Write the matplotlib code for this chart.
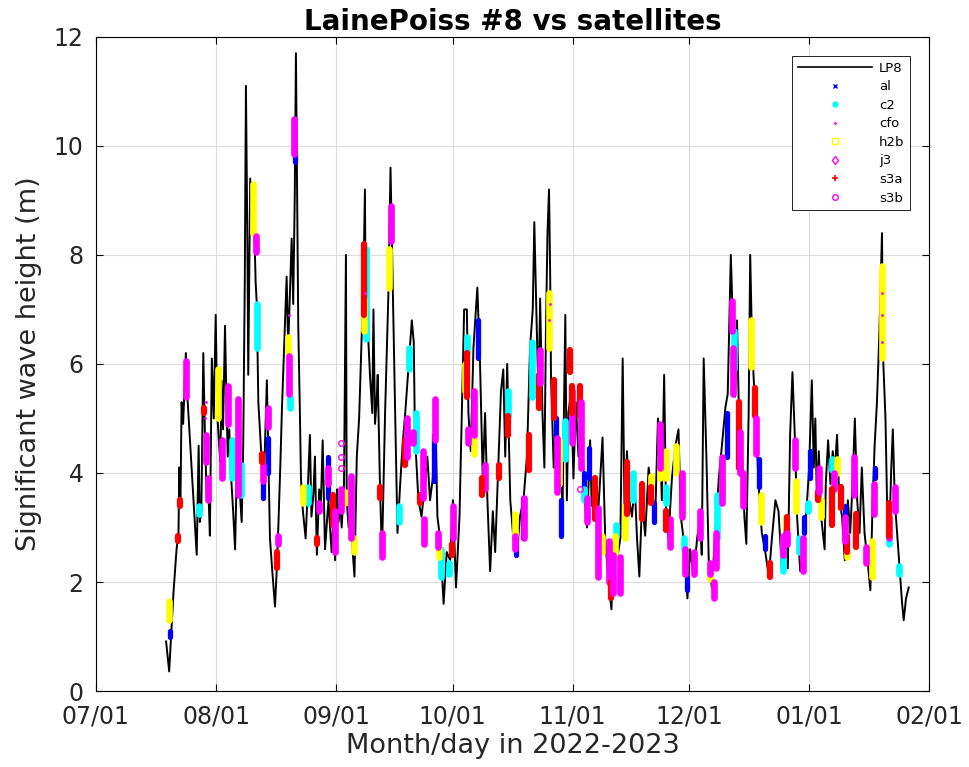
import numpy as np
import matplotlib
matplotlib.use("Agg")
import matplotlib.pyplot as plt
import matplotlib.dates as mdates
from matplotlib.lines import Line2D
from datetime import datetime

# 2022-07-01 を基準日にした経過日数で保持
t0 = mdates.date2num(datetime(2022, 7, 1))
t_end = mdates.date2num(datetime(2023, 2, 1))

# LP8 ブイの有義波高 (日, m)
lp8_day = [18.1, 18.9, 20.0, 20.8, 21.3, 21.5, 21.8, 22.1, 22.5, 23.2, 23.6, 26.0, 26.5, 26.8, 27.2,
           27.7, 28.2, 28.6, 29.1, 29.4, 29.9, 30.4, 30.9, 31.3, 31.7, 32.1, 32.4, 32.8, 33.3, 33.6,
           34.0, 34.4, 34.9, 35.4, 35.9, 36.3, 36.6, 37.0, 37.6, 38.0, 38.4, 38.7, 39.1, 39.3, 39.8,
           40.3, 40.8, 41.2, 41.5, 41.9, 42.3, 42.7, 43.2, 43.7, 44.1, 44.5, 44.9, 45.5, 46.2, 46.7,
           47.1, 47.6, 48.0, 48.4, 48.8, 49.2, 49.6, 50.1, 50.5, 50.9, 51.3, 51.6, 52.0, 52.2, 52.6,
           52.9, 53.4, 54.1, 54.6, 55.2, 55.6, 56.1, 56.5, 57.0, 57.6, 58.0, 58.5, 59.1, 59.6, 60.0,
           60.4, 60.8, 61.2, 61.7, 62.2, 62.6, 63.0, 63.4, 64.0, 64.5, 64.7, 65.2, 65.6, 66.2, 66.7,
           67.3, 67.9, 68.6, 69.0, 69.4, 69.6, 70.0, 70.3, 70.7, 71.3, 71.6, 72.0, 72.4, 72.7, 73.3,
           73.8, 74.6, 75.5, 76.0, 76.5, 77.2, 77.8, 78.5, 79.1, 79.8, 80.3, 80.8, 81.5, 82.0, 82.3,
           83.2, 84.0, 84.9, 85.5, 86.2, 86.9, 87.5, 88.1, 88.8, 89.7, 90.5, 91.4, 92.1, 92.9, 93.8,
           94.4, 95.0, 95.7, 96.1, 96.7, 97.4, 98.4, 99.1, 99.8, 100.4, 101.0, 101.7, 102.4, 103.0,
           103.9, 104.5, 105.1, 105.6, 106.1, 106.9, 107.7, 108.6, 109.4, 110.3, 111.2, 112.0, 112.7,
           113.1, 113.75, 114.2, 114.6, 115.2, 115.7, 116.1, 116.5, 116.9, 117.2, 117.4, 118.1, 118.5,
           119.2, 119.8, 120.4, 121.1, 121.5, 121.9, 122.6, 123.2, 123.8, 124.5, 125.4, 126.1, 126.7,
           127.5, 127.9, 128.6, 129.5, 130.1, 130.7, 131.4, 132.3, 133.0, 133.5, 134.4, 135.3, 135.9,
           136.4, 137.0, 137.6, 138.3, 139.0, 139.6, 140.2, 140.9, 141.7, 142.6, 143.4, 144.3, 145.0,
           145.6, 146.0, 146.6, 147.1, 147.7, 148.6, 149.5, 150.3, 150.9, 151.6, 152.6, 153.3, 154.2,
           155.1, 155.9, 156.3, 156.8, 157.5, 158.1, 158.9, 159.8, 160.7, 161.5, 162.4, 163.0, 163.8,
           164.4, 164.9, 165.4, 166.0, 166.7, 167.3, 167.8, 168.4, 168.8, 169.3, 169.9, 170.5, 171.2,
           171.8, 172.7, 173.6, 174.4, 175.3, 176.1, 177.0, 177.5, 177.9, 178.5, 179.1, 179.7, 180.3,
           180.9, 181.7, 182.6, 183.4, 184.0, 184.7, 185.2, 185.6, 186.0, 186.5, 187.1, 188.0, 188.3,
           188.9, 189.5, 190.1, 190.6, 191.2, 191.8, 192.5, 193.2, 194.0, 194.6, 195.2, 195.8, 196.4,
           197.0, 197.6, 198.3, 199.2, 199.8, 200.4, 200.9, 201.5, 202.1, 202.8, 203.1, 203.7, 204.1,
           204.7, 205.2, 205.6, 206.1, 206.7, 207.3, 208.0, 208.4, 209.0, 209.7]
lp8_hs = [0.91, 0.36, 1.8, 2.6, 2.9, 4.1, 3.4, 5.3, 4.9, 6.2, 5.4, 2.5, 4.5, 3.1, 3.3,
          6.2, 4.4, 3.6, 3.5, 2.85, 6.1, 5.0, 6.9, 5.1, 4.6, 4.2, 5.7, 4.8, 6.7, 5.6,
          4.3, 4.8, 3.9, 3.3, 2.6, 3.9, 5.1, 3.8, 3.1, 4.5, 7.5, 11.1, 8.0, 5.8, 9.4,
          8.6, 8.7, 7.5, 7.1, 5.3, 4.8, 4.3, 3.5, 4.7, 5.7, 4.2, 2.8, 2.2, 1.55, 2.3,
          3.1, 4.2, 5.2, 6.0, 6.8, 7.6, 6.3, 7.4, 8.3, 7.1, 9.1, 11.7, 8.5, 6.7, 5.2,
          3.9, 3.3, 2.8, 3.6, 4.7, 3.2, 3.6, 4.3, 2.5, 3.7, 3.3, 4.6, 2.6, 3.1, 3.5,
          3.0, 2.55, 3.1, 2.4, 3.7, 3.1, 3.5, 3.0, 3.8, 8.0, 3.5, 3.0, 3.2, 2.6, 2.1,
          4.3, 5.0, 6.6, 7.5, 9.2, 7.0, 7.7, 6.4, 5.8, 5.1, 7.0, 4.9, 5.3, 5.8, 3.7,
          2.5, 5.1, 7.4, 9.6, 7.7, 5.1, 2.9, 3.8, 4.5, 5.1, 5.6, 6.1, 6.8, 6.4, 4.7,
          3.5, 3.2, 3.8, 4.3, 3.5, 3.9, 5.3, 3.2, 2.8, 1.6, 2.55, 2.4, 3.5, 1.9, 3.2,
          5.1, 7.0, 7.0, 5.1, 4.4, 6.3, 7.4, 6.0, 3.9, 5.1, 3.5, 2.2, 3.3, 2.55,
          4.3, 5.5, 5.9, 4.3, 6.0, 3.5, 2.8, 2.5, 3.2, 3.5, 4.3, 6.3, 7.0,
          8.6, 6.6, 5.4, 7.2, 5.1, 4.1, 6.6, 8.4, 9.2, 7.6, 5.8, 4.1, 4.7,
          3.7, 4.3, 3.4, 6.9, 3.5, 5.1, 5.5, 3.9, 5.3, 4.3, 4.8, 3.5, 3.0,
          4.6, 3.4, 3.8, 3.2, 3.9, 4.65, 2.8, 1.95, 1.5, 2.4, 2.4, 2.8, 6.1,
          3.2, 4.4, 3.5, 3.2, 3.8, 2.8, 2.1, 3.5, 2.85, 4.1, 3.7, 3.2, 5.0,
          4.5, 3.5, 5.8, 3.3, 2.8, 3.9, 4.5, 4.8, 3.2, 2.8, 1.7, 2.6, 2.1,
          2.8, 3.2, 2.5, 6.1, 4.3, 2.4, 1.9, 2.9, 3.9, 4.5, 5.2, 5.45, 8.0,
          6.6, 5.4, 6.8, 4.7, 4.3, 3.2, 2.7, 5.1, 8.0, 6.3, 5.45, 4.5, 3.5,
          2.9, 2.55, 2.1, 2.8, 3.5, 3.3, 2.2, 2.8, 3.15, 2.25, 4.7, 5.85, 4.7,
          3.2, 2.2, 2.6, 3.4, 4.1, 5.7, 4.1, 5.0, 3.5, 4.4, 3.2, 2.6, 3.8,
          4.6, 3.8, 4.4, 4.0, 4.7, 3.5, 3.2, 2.4, 3.5, 2.9, 3.8, 5.0, 3.5,
          2.9, 4.1, 2.9, 2.3, 1.85, 3.5, 4.5, 5.3, 6.5, 8.4, 6.1, 5.0, 3.5,
          2.9, 4.1, 4.8, 3.5, 2.9, 2.3, 1.6, 1.3, 1.7, 1.9]

# 衛星の通過ごとの (日, 下端, 上端)
al_day = [19.1, 35.0, 43.1, 44.4, 51.35, 60.0, 87.1, 98.5, 108.4, 110.1, 118.7, 120.0, 125.8,
          127.1, 144.1, 152.5, 162.8, 171.1, 172.7, 182.75, 184.1, 193.2, 201.1]
al_lo = [1.0, 4.0, 3.55, 4.0, 9.7, 3.55, 3.85, 6.1, 2.5, 2.8, 4.55, 2.85, 3.7,
         3.9, 3.1, 1.85, 4.3, 3.75, 2.6, 2.9, 3.9, 2.85, 3.9]
al_hi = [1.1, 4.2, 3.85, 4.65, 9.8, 4.3, 4.7, 6.8, 2.8, 3.55, 5.0, 3.5, 4.0,
         4.45, 3.45, 2.1, 5.1, 4.25, 2.85, 3.2, 4.4, 3.4, 4.1]

c2_day = [26.7, 35.2, 37.4, 41.6, 50.0, 54.6, 69.7, 78.2, 80.8, 82.6, 89.0, 91.1, 95.7,
          106.2, 112.6, 121.1, 125.9, 134.2, 138.5, 147.05, 151.6, 160.2, 164.7, 177.3,
          181.5, 183.6, 189.9, 204.6, 207.1]
c2_lo = [3.25, 3.9, 3.6, 6.3, 5.2, 3.45, 6.45, 3.1, 5.9, 4.4, 2.1, 2.15, 6.2,
         5.05, 5.4, 4.25, 3.5, 2.85, 3.5, 3.45, 2.6, 2.8, 5.9, 2.2,
         2.55, 3.3, 4.05, 2.7, 2.15]
c2_hi = [3.4, 4.6, 4.15, 7.1, 5.4, 3.75, 8.1, 3.4, 6.3, 5.1, 2.6, 2.35, 6.5,
         5.5, 6.4, 4.95, 3.7, 3.05, 4.0, 3.75, 2.8, 3.6, 6.6, 2.8,
         2.8, 3.45, 4.25, 2.8, 2.3]

cfo_day = [28.1, 28.3, 41.3, 49.8, 69.3, 117.0, 117.1, 164.0, 180.3, 180.3, 202.8, 202.8, 202.8]
cfo_hs = [5.0, 5.3, 8.2, 6.9, 7.3, 6.8, 7.1, 7.0, 4.3, 4.5, 6.4, 6.9, 7.3]

h2b_day = [18.9, 31.4, 40.6, 49.65, 53.5, 64.3, 66.6, 69.2, 75.7, 88.6, 95.1, 97.6, 108.1,
           117.0, 119.5, 130.5, 134.0, 136.6, 143.2, 145.6, 147.05, 149.6, 158.3, 169.1,
           171.7, 178.1, 180.7, 187.1, 191.2, 193.8, 200.2, 202.8]
h2b_lo = [1.3, 5.0, 8.4, 6.2, 3.45, 3.45, 2.55, 6.6, 7.4, 2.45, 5.5, 4.35, 2.85,
          6.3, 3.8, 2.55, 2.4, 2.8, 3.7, 3.9, 3.9, 4.0, 2.05, 5.95,
          3.1, 2.95, 3.3, 3.2, 4.0, 2.45, 2.1, 6.1]
h2b_hi = [1.65, 5.9, 9.3, 6.5, 3.75, 3.65, 2.8, 7.2, 8.1, 2.65, 6.0, 4.7, 3.25,
          7.3, 4.6, 2.85, 2.85, 3.4, 3.95, 4.3, 4.4, 4.5, 2.2, 6.8,
          3.6, 3.2, 3.85, 3.5, 4.25, 2.55, 2.75, 7.8]

j3_day = [28.4, 34.0, 43.2, 47.1, 57.65, 59.9, 63.2, 73.75, 81.7, 84.7, 88.2, 96.1, 100.4,
          110.5, 122.8, 126.7, 132.25, 135.3, 148.2, 151.9, 155.9, 159.4, 161.5, 164.4,
          166.9, 177.3, 182.3, 190.5, 198.8, 204.5]
j3_lo = [4.2, 4.9, 3.85, 2.7, 3.3, 3.8, 3.3, 2.45, 4.55, 2.7, 2.65, 4.55, 3.7,
         2.8, 4.55, 3.1, 2.0, 1.8, 2.65, 2.15, 2.8, 1.7, 3.45, 5.45,
         3.4, 2.5, 2.2, 3.7, 2.35, 2.8]
j3_hi = [4.7, 5.6, 4.15, 2.85, 3.45, 4.1, 3.7, 2.9, 4.75, 3.15, 2.9, 4.8, 4.15,
         3.55, 5.5, 3.55, 2.75, 2.45, 3.15, 2.6, 3.3, 2.0, 4.3, 6.3,
         4.0, 2.85, 2.8, 4.0, 2.65, 3.2]

s3a_day = [21.3, 21.7, 28.0, 42.8, 46.6, 57.1, 61.1, 69.2, 73.3, 79.8, 83.6, 91.8, 95.85,
           99.7, 103.9, 106.2, 111.8, 114.2, 118.3, 122.2, 122.9, 124.9, 128.8, 133.0, 137.0,
           140.8, 143.3, 147.1, 166.0, 170.0, 173.8, 178.2, 186.3, 189.9, 192.3, 193.8, 196.2,
           204.5]
s3a_lo = [2.75, 3.4, 5.1, 4.2, 2.25, 2.7, 3.05, 6.9, 3.55, 4.15, 3.45, 2.5, 5.4,
          3.6, 3.9, 4.7, 4.05, 5.2, 5.0, 5.85, 5.1, 5.05, 3.15, 1.7, 3.25,
          3.15, 3.45, 2.95, 4.1, 5.05, 2.1, 2.9, 3.5, 3.05, 3.35, 2.55, 2.65,
          2.85]
s3a_hi = [2.85, 3.5, 5.2, 4.35, 2.55, 2.8, 3.6, 8.2, 3.75, 4.6, 3.6, 2.7, 6.2,
          3.9, 4.15, 5.05, 4.7, 5.8, 5.7, 6.25, 5.6, 5.6, 3.9, 2.0, 4.2,
          3.8, 3.75, 3.3, 5.3, 5.55, 2.35, 3.2, 3.65, 3.7, 3.75, 2.85, 3.25,
          3.45]

s3b_day = [23.2, 28.8, 32.6, 36.7, 41.4, 44.3, 49.9, 51.2, 61.7, 65.75, 76.0, 80.2, 84.3,
           87.5, 92.2, 97.6, 108.0, 114.6, 118.9, 125.2, 129.5, 133.3, 145.4, 151.2, 154.2,
           158.3, 160.0, 164.1, 166.2, 170.4, 178.3, 180.3, 186.5, 193.2, 195.7, 200.8,
           206.1]
s3b_lo = [5.4, 3.5, 3.9, 3.6, 8.05, 4.85, 5.45, 9.85, 2.55, 2.8, 8.25, 4.3, 3.55,
          4.6, 2.8, 4.7, 2.6, 5.65, 3.65, 4.1, 2.1, 1.8, 4.1, 3.2, 2.15,
          2.15, 2.25, 6.6, 4.0, 4.35, 2.7, 4.1, 3.65, 2.75, 3.6, 3.25,
          3.3]
s3b_hi = [6.05, 3.9, 4.6, 5.35, 8.35, 5.2, 6.15, 10.5, 3.3, 3.95, 8.9, 5.0, 4.4,
          5.35, 3.4, 5.5, 2.85, 6.25, 4.65, 5.3, 3.35, 2.5, 4.9, 4.0, 2.55,
          2.35, 2.9, 7.15, 4.75, 5.0, 2.9, 4.6, 4.1, 3.2, 4.3, 3.8,
          3.75]
# 単独の s3b 点
s3b_pt_day = [63.2, 63.2, 63.2, 125.0]
s3b_pt_hs = [4.55, 4.3, 4.1, 3.7]

sats = [
    ("al", al_day, al_lo, al_hi, "blue", 3.8),
    ("c2", c2_day, c2_lo, c2_hi, "cyan", 4.8),
    ("h2b", h2b_day, h2b_lo, h2b_hi, "yellow", 4.8),
    ("j3", j3_day, j3_lo, j3_hi, "magenta", 4.8),
    ("s3a", s3a_day, s3a_lo, s3a_hi, "red", 4.5),
    ("s3b", s3b_day, s3b_lo, s3b_hi, "magenta", 4.8),
]

fig = plt.figure(figsize=(9.69, 7.67), dpi=100)
ax = fig.add_axes([0.099, 0.099, 0.860, 0.853])

ax.plot(t0 + np.array(lp8_day), lp8_hs, color="k", lw=1.4, zorder=2)

for name, d, lo, hi, col, lw in sats:
    ax.vlines(t0 + np.array(d), lo, hi, colors=col, lw=lw, capstyle="round", zorder=3)

ax.plot(t0 + np.array(s3b_pt_day), s3b_pt_hs, "o", mfc="none", mec="magenta", ms=4, mew=1, zorder=3)
ax.plot(t0 + np.array(cfo_day), cfo_hs, ".", color="magenta", ms=2, zorder=4)

ax.set_xlim(t0, t_end)
ax.set_ylim(0, 12)
ax.set_yticks(np.arange(0, 13, 2))
ax.xaxis.set_major_locator(mdates.MonthLocator())
ax.xaxis.set_major_formatter(mdates.DateFormatter("%m/%d"))

ax.tick_params(direction="in", top=True, right=True, labelsize=17, length=5,
               width=0.8, labelcolor="#262626")
ax.tick_params(axis="x", pad=10)
ax.tick_params(axis="y", pad=9)
ax.grid(color="#dcdcdc", lw=0.8)
ax.set_axisbelow(True)
for s in ax.spines.values():
    s.set_linewidth(0.8)

ax.set_title("LainePoiss #8 vs satellites", fontsize=20, fontweight="bold", pad=5)
ax.set_xlabel("Month/day in 2022-2023", fontsize=19.5, color="#262626", labelpad=3)
ax.set_ylabel("Significant wave height (m)", fontsize=19.5, color="#262626", labelpad=8)

handles = [Line2D([], [], color="k", lw=1.2)]
labels = ["LP8"]
handles.append(Line2D([], [], ls="none", marker="x", color="blue", ms=3.5, mew=1))
labels.append("al")
handles.append(Line2D([], [], ls="none", marker="o", color="cyan", ms=3.5))
labels.append("c2")
handles.append(Line2D([], [], ls="none", marker=".", color="magenta", ms=2))
labels.append("cfo")
handles.append(Line2D([], [], ls="none", marker="s", mfc="none", mec="yellow", ms=4, mew=1))
labels.append("h2b")
handles.append(Line2D([], [], ls="none", marker="d", mfc="none", mec="magenta", ms=4.5, mew=1))
labels.append("j3")
handles.append(Line2D([], [], ls="none", marker="+", color="red", ms=5, mew=1.2))
labels.append("s3a")
handles.append(Line2D([], [], ls="none", marker="o", mfc="none", mec="magenta", ms=4, mew=1))
labels.append("s3b")

leg = ax.legend(handles, labels, loc="upper right", bbox_to_anchor=(1 - 19 / 833, 1 - 19 / 654),
                fontsize=9.5, handlelength=5.6, handletextpad=0.5, labelspacing=0.42,
                borderpad=0.45, borderaxespad=0, frameon=True, fancybox=False,
                edgecolor="k", framealpha=1)
leg.get_frame().set_linewidth(0.6)

fig.savefig("out.png", dpi=100)
